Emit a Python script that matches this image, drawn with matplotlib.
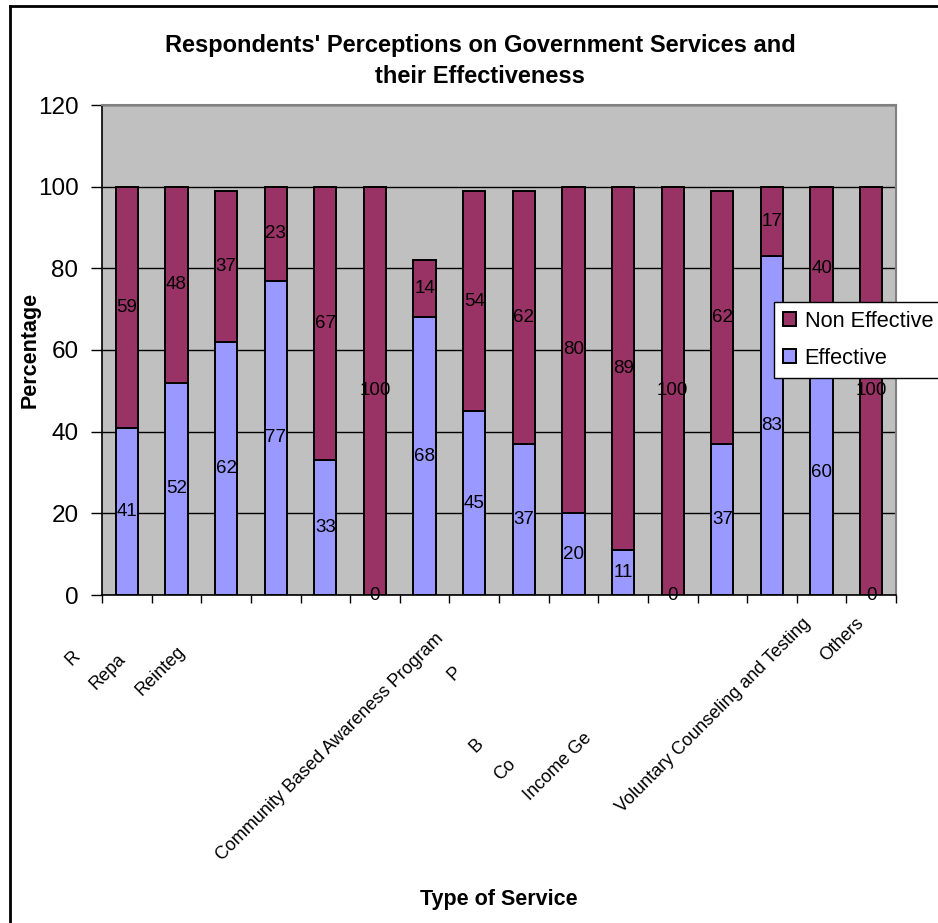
import matplotlib
matplotlib.use("Agg")
import matplotlib.pyplot as plt
from matplotlib.lines import Line2D
from matplotlib.patches import Patch

plt.rcParams["font.family"] = ["Liberation Sans", "DejaVu Sans"]

TITLE = "Respondents' Perceptions on Government Services and\ntheir Effectiveness"
Y_LABEL = "Percentage"
X_LABEL = "Type of Service"
SERIES = ["Effective", "Non Effective"]

effective = [41, 52, 62, 77, 33, 0, 68, 45, 37, 20, 11, 0, 37, 83, 60, 0]
non_effective = [59, 48, 37, 23, 67, 100, 14, 54, 62, 80, 89, 100, 62, 17, 40, 100]
y_ticks = [0, 20, 40, 60, 80, 100, 120]

# the category labels come out clipped in the source chart; only these fragments show
tick_labels = ["R", "Repa", "Reinteg", "Community Based Awareness Program", "P", "B",
               "Co", "Income Ge", "Voluntary Counseling and Testing", "Others"]

# anchor (right end) of each fragment, figure pixels
LABEL_ANCHORS = [(78, 654), (123, 657), (183, 649), (441, 636), (459, 669), (481, 741),
                 (513, 762), (589, 736), (808, 621), (861, 621)]

COLOR_EFF = "#9999FF"
COLOR_NON = "#993366"
BG = "#C0C0C0"

W, H = 938, 923
fig = plt.figure(figsize=(W / 100, H / 100), dpi=100)
ax = fig.add_axes([102 / W, 1 - 595 / H, 794 / W, 490 / H])
ax.set_facecolor(BG)

x = list(range(len(effective)))
b1 = ax.bar(x, effective, width=0.45, color=COLOR_EFF, edgecolor="black", linewidth=1.4, zorder=3)
b2 = ax.bar(x, non_effective, width=0.45, bottom=effective, color=COLOR_NON,
            edgecolor="black", linewidth=1.4, zorder=3)
ax.bar_label(b1, labels=[str(v) for v in effective], label_type="center", fontsize=13.5, zorder=4)
ax.bar_label(b2, labels=[str(v) for v in non_effective], label_type="center", fontsize=13.5, zorder=4)

ax.set_xlim(-0.5, len(effective) - 0.5)
ax.set_ylim(0, 120)
ax.set_yticks(y_ticks)
ax.tick_params(axis="y", labelsize=17.5, length=8, width=1, pad=9, direction="out")
ax.set_xticks([])
ax.set_xticks([i - 0.5 for i in range(len(effective) + 1)], minor=True)
ax.tick_params(axis="x", which="minor", length=6, width=1, direction="out")
ax.yaxis.grid(True, color="black", linewidth=1)
ax.set_axisbelow(True)

for side in ["left", "bottom"]:
    ax.spines[side].set_color("black")
    ax.spines[side].set_linewidth(1.2)
for side in ["top", "right"]:
    ax.spines[side].set_color("#808080")
    ax.spines[side].set_linewidth(1.5)

for text, (px, py) in zip(tick_labels, LABEL_ANCHORS):
    fig.text(px / W, 1 - py / H, text, rotation=45, rotation_mode="anchor",
             ha="right", va="center", fontsize=13)

fig.text(480 / W, 1 - 61 / H, TITLE, ha="center", va="center", fontsize=17,
         fontweight="bold", linespacing=1.45)
fig.text(30 / W, 1 - 350 / H, Y_LABEL, rotation=90, ha="center", va="center",
         fontsize=15.5, fontweight="bold")
fig.text(499 / W, 1 - 900 / H, X_LABEL, ha="center", va="center", fontsize=15.5,
         fontweight="bold")

handles = [Patch(facecolor=COLOR_NON, edgecolor="black", linewidth=1.4),
           Patch(facecolor=COLOR_EFF, edgecolor="black", linewidth=1.4)]
leg = fig.legend(handles, [SERIES[1], SERIES[0]], loc="upper left",
                 bbox_to_anchor=(774 / W, 1 - 302 / H), bbox_transform=fig.transFigure,
                 fontsize=15.7, frameon=True, fancybox=False, shadow=False, framealpha=1,
                 edgecolor="black", borderaxespad=0, borderpad=0.4, handlelength=0.6,
                 handleheight=0.6, handletextpad=0.4, labelspacing=0.75)
leg.get_frame().set_linewidth(1)

# outer chart border (only left and top survive in the source image)
fig.add_artist(Line2D([9.5 / W, 9.5 / W], [0, 1 - 6 / H], color="black", linewidth=2,
                      transform=fig.transFigure))
fig.add_artist(Line2D([9.5 / W, 1], [1 - 6 / H, 1 - 6 / H], color="black", linewidth=2,
                      transform=fig.transFigure))

fig.savefig("out.png", dpi=100)
